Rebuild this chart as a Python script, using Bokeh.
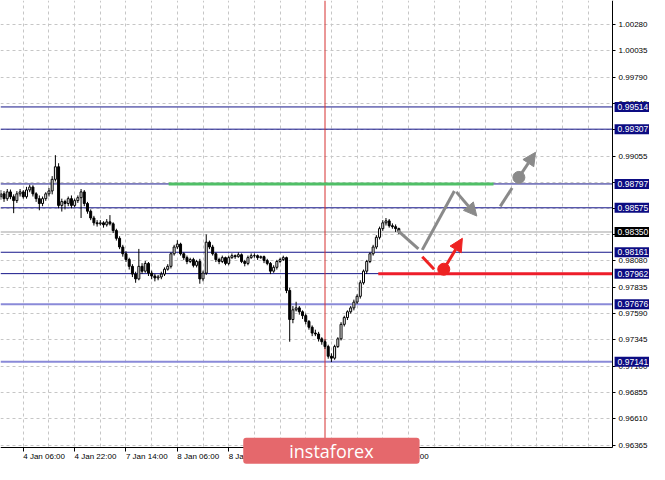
from bokeh.plotting import figure
from bokeh.models import (Range1d, FixedTicker, Label, Arrow, NormalHead, LinearAxis,
                          ColumnDataSource, PrintfTickFormatter)
from bokeh.embed import file_html
from bokeh.resources import INLINE

# ---------------- data ----------------
opens = [0.98678, 0.98705, 0.98660, 0.98723, 0.98678, 0.98642, 0.98705, 0.98723, 0.98678, 0.98741,
         0.98768, 0.98705, 0.98660, 0.98615, 0.98660, 0.98705, 0.98732, 0.98840, 0.98957, 0.98597,
         0.98633, 0.98615, 0.98660, 0.98597, 0.98642, 0.98669, 0.98723, 0.98615, 0.98543, 0.98480,
         0.98435, 0.98426, 0.98435, 0.98417, 0.98444, 0.98426, 0.98363, 0.98291, 0.98210, 0.98147,
         0.98093, 0.98030, 0.97958, 0.97913, 0.98030, 0.97985, 0.98057, 0.97967, 0.97940, 0.97922,
         0.97931, 0.97958, 0.98003, 0.98030, 0.98147, 0.98210, 0.98237, 0.98147, 0.98111, 0.98075,
         0.98093, 0.98039, 0.98075, 0.97913, 0.97967, 0.98255, 0.98210, 0.98147, 0.98093, 0.98075,
         0.98111, 0.98057, 0.98111, 0.98129, 0.98120, 0.98138, 0.98075, 0.98057, 0.98111, 0.98129,
         0.98129, 0.98111, 0.98120, 0.98084, 0.98057, 0.97985, 0.98021, 0.98075, 0.98093, 0.98111,
         0.97805, 0.97535, 0.97625, 0.97643, 0.97607, 0.97571, 0.97517, 0.97463, 0.97409, 0.97400,
         0.97355, 0.97328, 0.97283, 0.97193, 0.97175, 0.97283, 0.97355, 0.97490, 0.97553, 0.97607,
         0.97643, 0.97697, 0.97751, 0.97877, 0.97985, 0.98075, 0.98147, 0.98210, 0.98300, 0.98381,
         0.98435, 0.98453, 0.98408, 0.98399, 0.98381]
highs = [0.98740, 0.98730, 0.98750, 0.98745, 0.98700, 0.98730, 0.98750, 0.98740, 0.98770, 0.98790,
         0.98785, 0.98720, 0.98690, 0.98680, 0.98720, 0.98760, 0.98870, 0.99065, 0.98990, 0.98660,
         0.98650, 0.98680, 0.98690, 0.98660, 0.98690, 0.98750, 0.98740, 0.98630, 0.98560, 0.98500,
         0.98460, 0.98460, 0.98450, 0.98470, 0.98507, 0.98440, 0.98380, 0.98310, 0.98230, 0.98170,
         0.98110, 0.98050, 0.97980, 0.98192, 0.98060, 0.98080, 0.98070, 0.97990, 0.97960, 0.97950,
         0.97980, 0.98020, 0.98050, 0.98160, 0.98230, 0.98273, 0.98250, 0.98160, 0.98130, 0.98110,
         0.98110, 0.98090, 0.98100, 0.97990, 0.98327, 0.98270, 0.98230, 0.98160, 0.98110, 0.98130,
         0.98120, 0.98130, 0.98150, 0.98140, 0.98160, 0.98150, 0.98090, 0.98130, 0.98150, 0.98150,
         0.98140, 0.98130, 0.98130, 0.98100, 0.98070, 0.98040, 0.98090, 0.98110, 0.98129, 0.98120,
         0.97830, 0.97660, 0.97700, 0.97660, 0.97620, 0.97590, 0.97530, 0.97480, 0.97440, 0.97420,
         0.97370, 0.97350, 0.97300, 0.97220, 0.97300, 0.97370, 0.97510, 0.97570, 0.97620, 0.97660,
         0.97720, 0.97770, 0.97900, 0.98000, 0.98090, 0.98160, 0.98230, 0.98320, 0.98400, 0.98460,
         0.98480, 0.98470, 0.98430, 0.98420, 0.98390]
lows = [0.98650, 0.98630, 0.98640, 0.98655, 0.98525, 0.98620, 0.98680, 0.98660, 0.98660, 0.98720,
        0.98680, 0.98630, 0.98552, 0.98590, 0.98640, 0.98680, 0.98700, 0.98820, 0.98570, 0.98540,
        0.98560, 0.98590, 0.98570, 0.98580, 0.98620, 0.98480, 0.98590, 0.98520, 0.98460, 0.98410,
        0.98400, 0.98410, 0.98390, 0.98400, 0.98410, 0.98340, 0.98270, 0.98190, 0.98120, 0.98070,
        0.98000, 0.97930, 0.97877, 0.97900, 0.97960, 0.97970, 0.97940, 0.97910, 0.97890, 0.97900,
        0.97910, 0.97940, 0.97990, 0.98010, 0.98130, 0.98190, 0.98130, 0.98090, 0.98050, 0.98060,
        0.98020, 0.98020, 0.97868, 0.97890, 0.97950, 0.98190, 0.98130, 0.98070, 0.98050, 0.98060,
        0.98040, 0.98040, 0.98100, 0.98100, 0.98110, 0.98060, 0.98030, 0.98040, 0.98100, 0.98110,
        0.98090, 0.98100, 0.98060, 0.98040, 0.97958, 0.97970, 0.98000, 0.98060, 0.98080, 0.97780,
        0.97328, 0.97500, 0.97610, 0.97580, 0.97540, 0.97490, 0.97440, 0.97380, 0.97380, 0.97330,
        0.97300, 0.97260, 0.97170, 0.97139, 0.97160, 0.97270, 0.97340, 0.97470, 0.97530, 0.97590,
        0.97620, 0.97680, 0.97730, 0.97860, 0.97960, 0.98060, 0.98130, 0.98190, 0.98280, 0.98360,
        0.98410, 0.98390, 0.98380, 0.98350, 0.98330]
closes = [0.98705, 0.98660, 0.98723, 0.98678, 0.98642, 0.98705, 0.98723, 0.98678, 0.98741, 0.98768,
          0.98705, 0.98660, 0.98615, 0.98660, 0.98705, 0.98732, 0.98840, 0.98957, 0.98597, 0.98633,
          0.98615, 0.98660, 0.98597, 0.98642, 0.98669, 0.98723, 0.98615, 0.98543, 0.98480, 0.98435,
          0.98426, 0.98435, 0.98417, 0.98444, 0.98426, 0.98363, 0.98291, 0.98210, 0.98147, 0.98093,
          0.98030, 0.97958, 0.97913, 0.98030, 0.97985, 0.98057, 0.97967, 0.97940, 0.97922, 0.97931,
          0.97958, 0.98003, 0.98030, 0.98147, 0.98210, 0.98237, 0.98147, 0.98111, 0.98075, 0.98093,
          0.98039, 0.98075, 0.97913, 0.97967, 0.98255, 0.98210, 0.98147, 0.98093, 0.98075, 0.98111,
          0.98057, 0.98111, 0.98129, 0.98120, 0.98138, 0.98075, 0.98057, 0.98111, 0.98129, 0.98129,
          0.98111, 0.98120, 0.98084, 0.98057, 0.97985, 0.98021, 0.98075, 0.98093, 0.98111, 0.97805,
          0.97535, 0.97625, 0.97643, 0.97607, 0.97571, 0.97517, 0.97463, 0.97409, 0.97400, 0.97355,
          0.97328, 0.97283, 0.97193, 0.97175, 0.97283, 0.97355, 0.97490, 0.97553, 0.97607, 0.97643,
          0.97697, 0.97751, 0.97877, 0.97985, 0.98075, 0.98147, 0.98210, 0.98300, 0.98381, 0.98435,
          0.98453, 0.98408, 0.98399, 0.98381, 0.98350]

x_tick_bars = [7, 23, 39, 55, 71, 87, 103, 119]
x_tick_labels = ["4 Jan 06:00", "4 Jan 22:00", "7 Jan 14:00", "8 Jan 06:00",
                 "8 Jan 22:00", "9 Jan 14:00", "10 Jan 06:00", "10 Jan 22:00"]
y_ticks = [1.00280, 1.00035, 0.99790, 0.99545, 0.99300, 0.99055, 0.98810, 0.98565,
           0.98325, 0.98080, 0.97835, 0.97590, 0.97345, 0.97100, 0.96855, 0.96610, 0.96365]

dark_levels = [0.99514, 0.99307, 0.98797, 0.98575, 0.98161, 0.97962]
light_levels = [0.97676, 0.97141]
current_price = 0.98350

green_level = 0.98797
green_from, green_to = 52.3, 153.5
red_level = 0.97962
red_from = 117.6
marker_bar = 101

gray_segments = [((123.7, 0.98363), (130.1, 0.98192)),
                 ((131.3, 0.98183), (141.3, 0.98732))]
gray_arrows = [((141.9, 0.98723), (148.3, 0.98498)),
               ((161.4, 0.98858), (166.6, 0.99092))]
gray_dash = ((155.6, 0.98588), (159.3, 0.98759))
gray_dot = (161.4, 0.98858)
red_segment = ((131.3, 0.98120), (135.0, 0.98003))
red_dot = (138.0, 0.98003)
red_arrow = ((138.0, 0.98003), (143.8, 0.98291))

# ---------------- layout constants (style) ----------------
FONT = "Liberation Sans"
X0, X_AXIS, X1 = -0.1, 190.6, 202.1          # bar units: left edge, price-scale line, canvas edge
Y_TOP, Y_AXIS, Y_BOT = 1.00505, 0.96347, 0.96185  # price units: top, time-scale line, canvas bottom
LOGO_Y = 0.96312

p = figure(width=649, height=464, output_backend="svg", toolbar_location=None,
           x_range=Range1d(X0, X1), y_range=Range1d(Y_BOT, Y_TOP),
           x_axis_location=None, y_axis_location=None,
           min_border_left=0, min_border_top=0, min_border_right=0, min_border_bottom=0)
p.outline_line_color = None
p.background_fill_color = "white"
p.border_fill_color = "white"

# ---- grids (underlay) ----
GRID = "#c6c6c6"
p.xgrid.ticker = FixedTicker(ticks=[-1 + 8 * k for k in range(25)])
p.ygrid.ticker = FixedTicker(ticks=y_ticks)
for g in (p.xgrid[0], p.ygrid[0]):
    g.grid_line_color = GRID
    g.grid_line_dash = "3 3"
    g.grid_line_width = 1

# ---- level lines ----
p.segment(x0=[X0], y0=[current_price], x1=[X_AXIS], y1=[current_price],
          line_color="#d0d0d0", line_width=2)
p.segment(x0=[X0] * len(dark_levels), y0=dark_levels, x1=[X_AXIS] * len(dark_levels),
          y1=dark_levels, line_color="#16168a", line_width=1)
p.segment(x0=[X0] * len(light_levels), y0=light_levels, x1=[X_AXIS] * len(light_levels),
          y1=light_levels, line_color="#8a8ad8", line_width=2)
p.segment(x0=[marker_bar], y0=[Y_AXIS], x1=[marker_bar], y1=[Y_TOP],
          line_color="#d63030", line_width=1)
p.segment(x0=[green_from], y0=[green_level], x1=[green_to], y1=[green_level],
          line_color="#4fbf66", line_width=3)
p.segment(x0=[red_from], y0=[red_level], x1=[X_AXIS], y1=[red_level],
          line_color="#ee1d2a", line_width=3)

# ---- candles ----
idx = list(range(len(closes)))
src = ColumnDataSource(dict(i=idx, o=opens, h=highs, l=lows, c=closes,
                            top=[max(a, b) for a, b in zip(opens, closes)],
                            bot=[min(a, b) for a, b in zip(opens, closes)],
                            fill=["white" if c >= o else "black" for o, c in zip(opens, closes)]))
p.segment(x0="i", y0="h", x1="i", y1="l", source=src, line_color="black", line_width=1)
p.vbar(x="i", top="top", bottom="bot", width=0.62, source=src,
       fill_color="fill", line_color="black", line_width=1)

# ---- forecast drawings ----
GRAY = "#8a8a8a"
RED = "#ee2222"
for (a, b) in gray_segments:
    p.line([a[0], b[0]], [a[1], b[1]], line_color=GRAY, line_width=3)
p.line([gray_dash[0][0], gray_dash[1][0]], [gray_dash[0][1], gray_dash[1][1]],
       line_color=GRAY, line_width=3)
for (a, b) in gray_arrows:
    p.add_layout(Arrow(x_start=a[0], y_start=a[1], x_end=b[0], y_end=b[1],
                       line_color=GRAY, line_width=3,
                       end=NormalHead(size=13, fill_color=GRAY, line_color=GRAY)))
p.scatter([gray_dot[0]], [gray_dot[1]], size=12, fill_color=GRAY, line_color=GRAY)
p.line([red_segment[0][0], red_segment[1][0]], [red_segment[0][1], red_segment[1][1]],
       line_color=RED, line_width=3)
p.add_layout(Arrow(x_start=red_arrow[0][0], y_start=red_arrow[0][1],
                   x_end=red_arrow[1][0], y_end=red_arrow[1][1],
                   line_color=RED, line_width=3,
                   end=NormalHead(size=13, fill_color=RED, line_color=RED)))
p.scatter([red_dot[0]], [red_dot[1]], size=12, fill_color=RED, line_color=RED)

# ---- white margins for scales (cover grid outside the chart window) ----
p.quad(left=[X_AXIS], right=[X1], bottom=[Y_BOT], top=[Y_TOP],
       fill_color="white", line_color=None)
p.quad(left=[X0], right=[X1], bottom=[Y_BOT], top=[Y_AXIS],
       fill_color="white", line_color=None)

# ---- axes (fixed inside the canvas, like the terminal window) ----
def style_axis(ax):
    ax.axis_line_color = "black"
    ax.major_tick_line_color = "black"
    ax.minor_tick_line_color = None
    ax.major_label_text_font = FONT
    ax.major_label_text_font_size = "8px"
    ax.major_label_text_color = "black"

yax = LinearAxis(ticker=FixedTicker(ticks=y_ticks), formatter=PrintfTickFormatter(format="%.5f"),
                 fixed_location=X_AXIS, bounds=(Y_AXIS, Y_TOP))
style_axis(yax)
yax.major_tick_out = 3
yax.major_tick_in = 0
yax.major_label_standoff = 3
p.add_layout(yax, "right")

xax_ticks = LinearAxis(ticker=FixedTicker(ticks=x_tick_bars), fixed_location=Y_AXIS,
                       bounds=(X0, X_AXIS),
                       major_label_overrides={b: "" for b in x_tick_bars})
style_axis(xax_ticks)
xax_ticks.major_tick_out = 4
xax_ticks.major_tick_in = 0
xax_ticks.major_label_text_font_size = "0px"
p.add_layout(xax_ticks, "below")

label_pos = [round(b + 0.59 * len(t), 2) for b, t in zip(x_tick_bars, x_tick_labels)]
xax_labels = LinearAxis(ticker=FixedTicker(ticks=label_pos), fixed_location=Y_AXIS,
                        major_label_overrides={b: t for b, t in zip(label_pos, x_tick_labels)})
style_axis(xax_labels)
xax_labels.axis_line_color = None
xax_labels.major_tick_line_color = None
xax_labels.major_tick_out = 0
xax_labels.major_tick_in = 0
xax_labels.major_label_standoff = 5
p.add_layout(xax_labels, "below")

# ---- price boxes on the scale ----
for lv in dark_levels + light_levels:
    p.add_layout(Label(x=X_AXIS, y=lv, x_offset=2, text="%.5f" % lv, text_align="left",
                       text_baseline="middle", text_color="white", text_font=FONT,
                       text_font_size="8.5px", background_fill_color="#0c0c82",
                       padding=(3, 3, 2, 2)))
p.add_layout(Label(x=X_AXIS, y=current_price, x_offset=2, text="%.5f" % current_price,
                   text_align="left", text_baseline="middle", text_color="white",
                   text_font=FONT, text_font_size="8.5px", background_fill_color="black",
                   padding=(3, 3, 2, 2)))

# ---- logo ----
p.add_layout(Label(x=marker_bar + 2, y=LOGO_Y, text="instaforex", text_align="center",
                   text_baseline="middle", text_color="white", text_font="Open Sans",
                   text_font_size="18px", background_fill_color="#e5686c",
                   padding=(46, 46, 1, 1), border_radius=3))

open("out.html", "w").write(file_html(p, INLINE))
